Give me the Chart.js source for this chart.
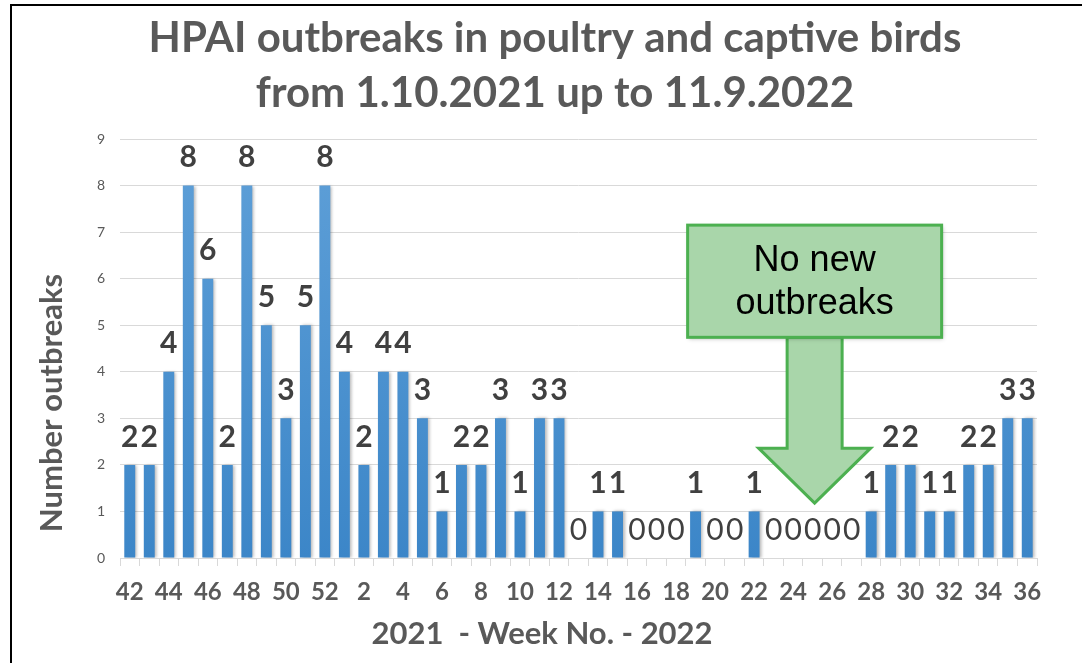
<!DOCTYPE html>
<html>
<head>
<meta charset="utf-8">
<script src="https://cdn.jsdelivr.net/npm/chart.js@4.4.1/dist/chart.umd.min.js"></script>
<style>
  html, body { margin: 0; padding: 0; background: #fff; }
  #wrap { width: 1082px; height: 663px; }
</style>
</head>
<body>
<div id="wrap"><canvas id="hpaiChart" width="1082" height="663"></canvas></div>
<script>
// week numbers: 42-52 of 2021, then 1-36 of 2022
const weeks = ['42','43','44','45','46','47','48','49','50','51','52',
  '1','2','3','4','5','6','7','8','9','10','11','12','13','14','15','16','17','18',
  '19','20','21','22','23','24','25','26','27','28','29','30','31','32','33','34','35','36'];
const outbreaks = [2,2,4,8,6,2,8,5,3,5,8,
  4,2,4,4,3,1,2,2,3,1,3,3,0,1,1,0,0,0,
  1,0,0,1,0,0,0,0,0,1,2,2,1,1,2,2,3,3];
const yTicks = [0,1,2,3,4,5,6,7,8,9];

const titleLines = ['HPAI outbreaks in poultry and captive birds', 'from 1.10.2021 up to 11.9.2022'];
const xTitle = '2021  - Week No. - 2022';
const yTitle = 'Number outbreaks';
const noteLines = ['No new', 'outbreaks'];
const noteWeek = '25';

const GRAY = '#595959';
const FONT = 'Lato, "Open Sans", sans-serif';

const frameAndTitles = {
  id: 'frameAndTitles',
  beforeDraw(chart) {
    const ctx = chart.ctx;
    ctx.save();
    ctx.fillStyle = '#fff';
    ctx.fillRect(0, 0, chart.width, chart.height);
    ctx.strokeStyle = '#000';
    ctx.lineWidth = 2;
    ctx.beginPath();
    ctx.moveTo(11, chart.height);
    ctx.lineTo(11, 5);
    ctx.lineTo(chart.width, 5);
    ctx.stroke();
    ctx.restore();
  },
  afterDraw(chart) {
    const ctx = chart.ctx;
    ctx.save();
    ctx.fillStyle = GRAY;
    ctx.textAlign = 'center';
    ctx.textBaseline = 'middle';
    ctx.font = 'bold 42px ' + FONT;
    ctx.fillText(titleLines[0], 555, 38);
    ctx.fillText(titleLines[1], 555, 93);
    ctx.font = 'bold 31px ' + FONT;
    ctx.fillText(xTitle, 542, 634);
    ctx.translate(52, 403);
    ctx.rotate(-Math.PI / 2);
    ctx.fillText(yTitle, 0, 0);
    ctx.restore();
  }
};

const barLabels = {
  id: 'barLabels',
  beforeDatasetsDraw(chart) {
    const ctx = chart.ctx;
    ctx.save();
    ctx.shadowColor = 'rgba(0,0,0,0.28)';
    ctx.shadowBlur = 3;
    ctx.shadowOffsetX = 2;
  },
  afterDatasetsDraw(chart) {
    const ctx = chart.ctx;
    ctx.restore();
    const meta = chart.getDatasetMeta(0);
    ctx.save();
    ctx.fillStyle = '#404040';
    ctx.textAlign = 'center';
    ctx.textBaseline = 'middle';
    meta.data.forEach((bar, i) => {
      const v = outbreaks[i];
      ctx.font = (v === 0 ? 'normal ' : 'bold ') + '30px ' + FONT;
      ctx.fillText(String(v), bar.x, bar.y - 28);
    });
    ctx.restore();
  }
};

const noteArrow = {
  id: 'noteArrow',
  afterDatasetsDraw(chart) {
    const { ctx, scales } = chart;
    const cx = scales.x.getPixelForValue(weeks.indexOf(noteWeek)) + 2;
    const boxTop = scales.y.getPixelForValue(7.15);
    const boxBottom = scales.y.getPixelForValue(4.74);
    const headBase = scales.y.getPixelForValue(2.36);
    const tip = scales.y.getPixelForValue(1.18);
    const boxHalf = 127, shaftHalf = 27.5, headHalf = 56;

    ctx.save();
    ctx.fillStyle = '#a9d6aa';
    ctx.strokeStyle = '#4cb050';
    ctx.lineWidth = 3;
    ctx.lineJoin = 'miter';
    // arrow
    ctx.beginPath();
    ctx.moveTo(cx - shaftHalf, boxBottom);
    ctx.lineTo(cx - shaftHalf, headBase);
    ctx.lineTo(cx - headHalf, headBase);
    ctx.lineTo(cx, tip);
    ctx.lineTo(cx + headHalf, headBase);
    ctx.lineTo(cx + shaftHalf, headBase);
    ctx.lineTo(cx + shaftHalf, boxBottom);
    ctx.closePath();
    ctx.fill();
    ctx.stroke();
    // box
    ctx.shadowColor = 'rgba(0,0,0,0.25)';
    ctx.shadowBlur = 4;
    ctx.shadowOffsetX = 1;
    ctx.shadowOffsetY = 2;
    ctx.fillRect(cx - boxHalf, boxTop, boxHalf * 2, boxBottom - boxTop);
    ctx.shadowColor = 'transparent';
    ctx.strokeRect(cx - boxHalf, boxTop, boxHalf * 2, boxBottom - boxTop);
    ctx.fillStyle = '#000';
    ctx.font = '36px "Liberation Sans", Arial, sans-serif';
    ctx.textAlign = 'center';
    ctx.textBaseline = 'middle';
    const mid = (boxTop + boxBottom) / 2;
    ctx.fillText(noteLines[0], cx, mid - 20);
    ctx.fillText(noteLines[1], cx, mid + 23);
    ctx.restore();
  }
};

const ctx = document.getElementById('hpaiChart').getContext('2d');
new Chart(ctx, {
  type: 'bar',
  data: {
    labels: weeks,
    datasets: [{
      label: 'Outbreaks',
      data: outbreaks,
      backgroundColor: (c) => {
        const area = c.chart.chartArea;
        if (!area) return '#4a8fd0';
        const g = c.chart.ctx.createLinearGradient(0, area.top, 0, area.bottom);
        g.addColorStop(0, '#5fa0d8');
        g.addColorStop(1, '#3c86c8');
        return g;
      },
      barPercentage: 0.56,
      categoryPercentage: 1
    }]
  },
  options: {
    responsive: false,
    animation: false,
    layout: { padding: { top: 139, right: 45, left: 0, bottom: 0 } },
    plugins: {
      legend: { display: false },
      tooltip: { enabled: false }
    },
    scales: {
      x: {
        offset: true,
        grid: { offset: true, drawOnChartArea: false, tickLength: 8, color: '#d9d9d9' },
        border: { color: '#d9d9d9' },
        ticks: {
          autoSkip: false,
          maxRotation: 0,
          padding: 12,
          color: GRAY,
          font: { family: FONT, size: 24, weight: 'bold' },
          callback: (v, i) => (i % 2 === 0 ? weeks[i] : '')
        },
        afterFit: (s) => { s.height = 105; }
      },
      y: {
        min: 0,
        max: 9,
        afterBuildTicks: (s) => { s.ticks = yTicks.map(v => ({ value: v })); },
        grid: { color: '#d9d9d9', drawTicks: false },
        border: { display: false },
        ticks: {
          padding: 15,
          color: GRAY,
          font: { family: FONT, size: 14 }
        },
        afterFit: (s) => { s.width = 120; }
      }
    }
  },
  plugins: [frameAndTitles, barLabels, noteArrow]
});
</script>
</body>
</html>
